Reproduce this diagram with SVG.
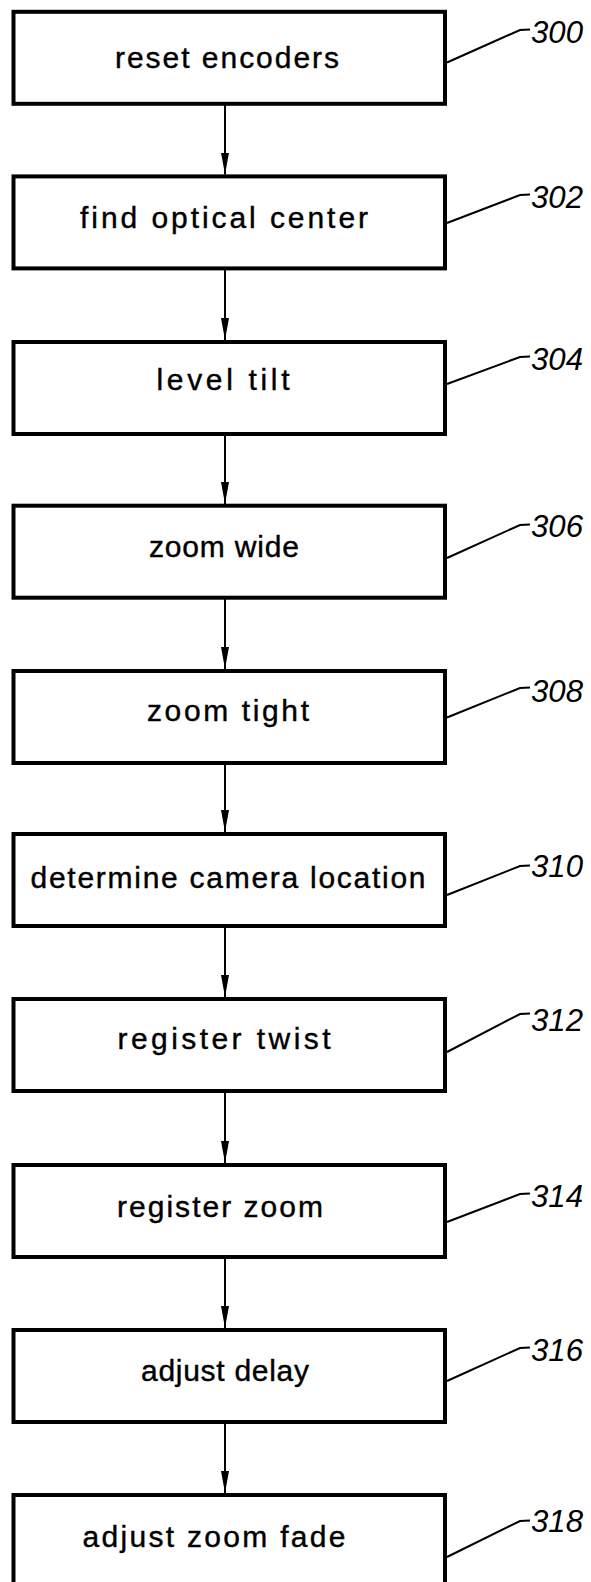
<svg xmlns="http://www.w3.org/2000/svg" width="591" height="1582" viewBox="0 0 591 1582">
<defs>
<style>
.box{fill:#fff;stroke:#000;stroke-width:4}
.lbl{font-family:"Liberation Sans",Arial,sans-serif;font-size:30px;fill:#000;text-anchor:middle;stroke:#000;stroke-width:0.4}
.num{font-family:"Liberation Sans",Arial,sans-serif;font-style:italic;font-size:32px;fill:#000}
.arr{stroke:#000;stroke-width:2;fill:none}
.lead{stroke:#000;stroke-width:2;fill:none}
</style>
<marker id="ah" viewBox="0 0 22 8" refX="22" refY="4" markerWidth="22" markerHeight="8" markerUnits="userSpaceOnUse" orient="auto">
<path d="M0,0 L22,4 L0,8 z" fill="#000"/>
</marker>
</defs>
<rect width="591" height="1582" fill="#fff"/>
<g id="connectors">
<line class="arr" x1="225" y1="104" x2="225" y2="174.5" marker-end="url(#ah)"/>
<line class="arr" x1="225" y1="268.5" x2="225" y2="340" marker-end="url(#ah)"/>
<line class="arr" x1="225" y1="434" x2="225" y2="504" marker-end="url(#ah)"/>
<line class="arr" x1="225" y1="598" x2="225" y2="669" marker-end="url(#ah)"/>
<line class="arr" x1="225" y1="763" x2="225" y2="832" marker-end="url(#ah)"/>
<line class="arr" x1="225" y1="926" x2="225" y2="997" marker-end="url(#ah)"/>
<line class="arr" x1="225" y1="1091" x2="225" y2="1163" marker-end="url(#ah)"/>
<line class="arr" x1="225" y1="1257" x2="225" y2="1328" marker-end="url(#ah)"/>
<line class="arr" x1="225" y1="1422" x2="225" y2="1493" marker-end="url(#ah)"/>
</g>
<g id="n300">
<rect class="box" x="13.5" y="11.8" width="431.5" height="92"/>
<text class="lbl" x="227" y="68" textLength="224" lengthAdjust="spacing">reset encoders</text>
<path class="lead" d="M447,62.5 L520,30 L530,29.5"/>
<text class="num" x="531" y="43" textLength="52" lengthAdjust="spacingAndGlyphs">300</text>
</g>
<g id="n302">
<rect class="box" x="13.5" y="176.4" width="431.5" height="92"/>
<text class="lbl" x="224" y="228" textLength="288" lengthAdjust="spacing">find optical center</text>
<path class="lead" d="M447,223 L520,195 L530,194.5"/>
<text class="num" x="531" y="208" textLength="52" lengthAdjust="spacingAndGlyphs">302</text>
</g>
<g id="n304">
<rect class="box" x="13.5" y="342" width="431.5" height="92"/>
<text class="lbl" x="223" y="390" textLength="133" lengthAdjust="spacing">level tilt</text>
<path class="lead" d="M447,384 L520,357 L530,356.5"/>
<text class="num" x="531" y="370" textLength="52" lengthAdjust="spacingAndGlyphs">304</text>
</g>
<g id="n306">
<rect class="box" x="13.5" y="505.7" width="431.5" height="92"/>
<text class="lbl" x="224" y="557" textLength="150" lengthAdjust="spacing">zoom wide</text>
<path class="lead" d="M447,558 L520,525 L530,524.5"/>
<text class="num" x="531" y="537" textLength="52" lengthAdjust="spacingAndGlyphs">306</text>
</g>
<g id="n308">
<rect class="box" x="13.5" y="671" width="431.5" height="92"/>
<text class="lbl" x="228" y="721" textLength="162" lengthAdjust="spacing">zoom tight</text>
<path class="lead" d="M447,717.5 L520,688 L530,687.5"/>
<text class="num" x="531" y="702" textLength="52" lengthAdjust="spacingAndGlyphs">308</text>
</g>
<g id="n310">
<rect class="box" x="13.5" y="834" width="431.5" height="92"/>
<text class="lbl" x="228" y="887.5" textLength="395" lengthAdjust="spacing">determine camera location</text>
<path class="lead" d="M447,895 L520,866 L530,865.5"/>
<text class="num" x="531" y="877" textLength="52" lengthAdjust="spacingAndGlyphs">310</text>
</g>
<g id="n312">
<rect class="box" x="13.5" y="999" width="431.5" height="92"/>
<text class="lbl" x="224" y="1049" textLength="213" lengthAdjust="spacing">register twist</text>
<path class="lead" d="M447,1052 L520,1014 L530,1013.5"/>
<text class="num" x="531" y="1031" textLength="52" lengthAdjust="spacingAndGlyphs">312</text>
</g>
<g id="n314">
<rect class="box" x="13.5" y="1165" width="431.5" height="92"/>
<text class="lbl" x="220" y="1217" textLength="206" lengthAdjust="spacing">register zoom</text>
<path class="lead" d="M447,1222 L520,1194 L530,1193.5"/>
<text class="num" x="531" y="1207" textLength="52" lengthAdjust="spacingAndGlyphs">314</text>
</g>
<g id="n316">
<rect class="box" x="13.5" y="1330" width="431.5" height="92"/>
<text class="lbl" x="225" y="1381" textLength="168" lengthAdjust="spacing">adjust delay</text>
<path class="lead" d="M447,1381 L520,1348 L530,1347.5"/>
<text class="num" x="531" y="1361" textLength="52" lengthAdjust="spacingAndGlyphs">316</text>
</g>
<g id="n318">
<rect class="box" x="13.5" y="1495" width="431.5" height="92"/>
<text class="lbl" x="214" y="1547" textLength="263" lengthAdjust="spacing">adjust zoom fade</text>
<path class="lead" d="M447,1557 L520,1521 L530,1520.5"/>
<text class="num" x="531" y="1532" textLength="52" lengthAdjust="spacingAndGlyphs">318</text>
</g>
</svg>
